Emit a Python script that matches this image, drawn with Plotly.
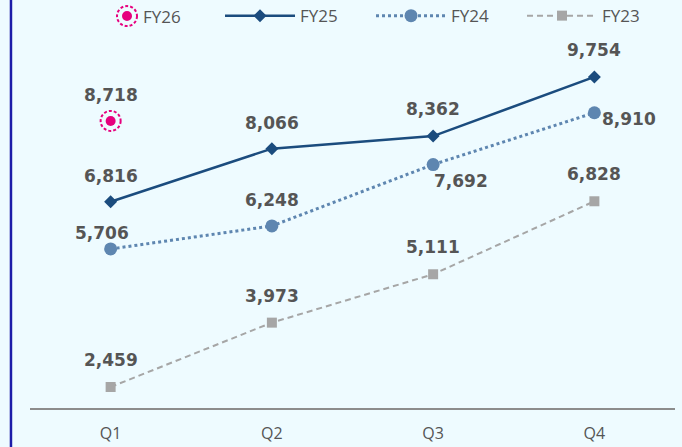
import plotly.graph_objects as go

quarters = ["Q1", "Q2", "Q3", "Q4"]
fy25 = [6816, 8066, 8362, 9754]
fy24 = [5706, 6248, 7692, 8910]
fy23 = [2459, 3973, 5111, 6828]
fy26_quarters = ["Q1"]
fy26 = [8718]

C25 = "#1B4C7E"
C24 = "#5E86B0"
C23 = "#A6A6A6"
C26 = "#E6007E"
TXT = "#555555"
BG = "#EEFBFF"

LABEL_FONT = dict(family="DejaVu Sans", size=17, color=TXT, weight="bold")

fig = go.Figure()

fig.add_trace(go.Scatter(
    x=quarters, y=fy25, name="FY25", mode="lines+markers",
    line=dict(color=C25, width=2.5),
    marker=dict(symbol="diamond", size=10, color=C25),
))
fig.add_trace(go.Scatter(
    x=quarters, y=fy24, name="FY24", mode="lines+markers",
    line=dict(color=C24, width=3, dash="dot"),
    marker=dict(symbol="circle", size=13, color=C24),
))
fig.add_trace(go.Scatter(
    x=quarters, y=fy23, name="FY23", mode="lines+markers",
    line=dict(color=C23, width=2, dash="6px,4px"),
    marker=dict(symbol="square", size=10, color=C23),
))
fig.add_trace(go.Scatter(
    x=fy26_quarters, y=fy26, name="FY26", mode="markers",
    marker=dict(symbol="circle", size=10, color=C26),
    showlegend=False,
))

# value labels: (x shift, y shift) per point of each series
annotations = []
series_labels = [
    (fy25, quarters, [(0, 26), (0, 26), (0, 27), (0, 27)]),
    (fy24, quarters, [(-9, 16), (0, 26), (28, -16), (35, -6)]),
    (fy23, quarters, [(0, 27), (0, 27), (0, 27), (0, 27)]),
    (fy26, fy26_quarters, [(0, 26)]),
]
for vals, xs, shifts in series_labels:
    for q, v, (dx, dy) in zip(xs, vals, shifts):
        annotations.append(dict(
            x=q, y=v, xref="x", yref="y", text=f"{v:,}", showarrow=False,
            xshift=dx, yshift=dy, font=LABEL_FONT,
        ))

# legend entry for FY26 (marker with dashed ring)
annotations.append(dict(
    x=0.1715, y=1.146, xref="paper", yref="paper", text="FY26",
    showarrow=False, xanchor="left", yanchor="middle",
    font=dict(family="Open Sans", size=17, color=TXT),
))

shapes = []
# dashed ring around the FY26 point
for q, v in zip(fy26_quarters, fy26):
    shapes.append(dict(
        type="circle", xref="x", yref="y", xsizemode="pixel", ysizemode="pixel",
        xanchor=q, yanchor=v, x0=-10, x1=10, y0=-10, y1=10,
        line=dict(color=C26, width=2, dash="3px,2px"), fillcolor="rgba(0,0,0,0)",
    ))
# legend symbol for FY26
shapes.append(dict(
    type="circle", xref="paper", yref="paper", xsizemode="pixel", ysizemode="pixel",
    xanchor=0.1504, yanchor=1.146, x0=-10, x1=10, y0=-10, y1=10,
    line=dict(color=C26, width=2, dash="3px,2px"), fillcolor="rgba(0,0,0,0)",
))
shapes.append(dict(
    type="circle", xref="paper", yref="paper", xsizemode="pixel", ysizemode="pixel",
    xanchor=0.1504, yanchor=1.146, x0=-5, x1=5, y0=-5, y1=5,
    line=dict(width=0), fillcolor=C26,
))
# left border
shapes.append(dict(
    type="line", xref="paper", yref="paper", x0=-0.0295, x1=-0.0295, y0=-0.2, y1=1.3,
    line=dict(color="#1C1CA8", width=2.5),
))

fig.update_layout(
    width=682, height=447,
    margin=dict(l=30, r=7, t=66, b=39, autoexpand=False),
    paper_bgcolor=BG, plot_bgcolor=BG,
    showlegend=True,
    legend=dict(
        orientation="h", xref="container", yref="container",
        x=0.3226, y=0.964, xanchor="left", yanchor="middle",
        font=dict(family="Open Sans", size=17, color=TXT),
        itemwidth=70, entrywidth=66, entrywidthmode="pixels",
        bgcolor="rgba(0,0,0,0)", traceorder="normal",
    ),
    annotations=annotations,
    shapes=shapes,
    xaxis=dict(
        type="category", categoryorder="array", categoryarray=quarters,
        range=[-0.5, 3.5], showgrid=False, zeroline=False,
        showline=True, linecolor="#8C8C8C", linewidth=2,
        ticks="", tickfont=dict(family="Open Sans", size=16, color=TXT),
        ticklabelstandoff=10, fixedrange=True,
    ),
    yaxis=dict(
        range=[1965, 10010], showgrid=False, zeroline=False,
        showticklabels=False, showline=False, fixedrange=True,
    ),
)

fig.write_html("out.html")
